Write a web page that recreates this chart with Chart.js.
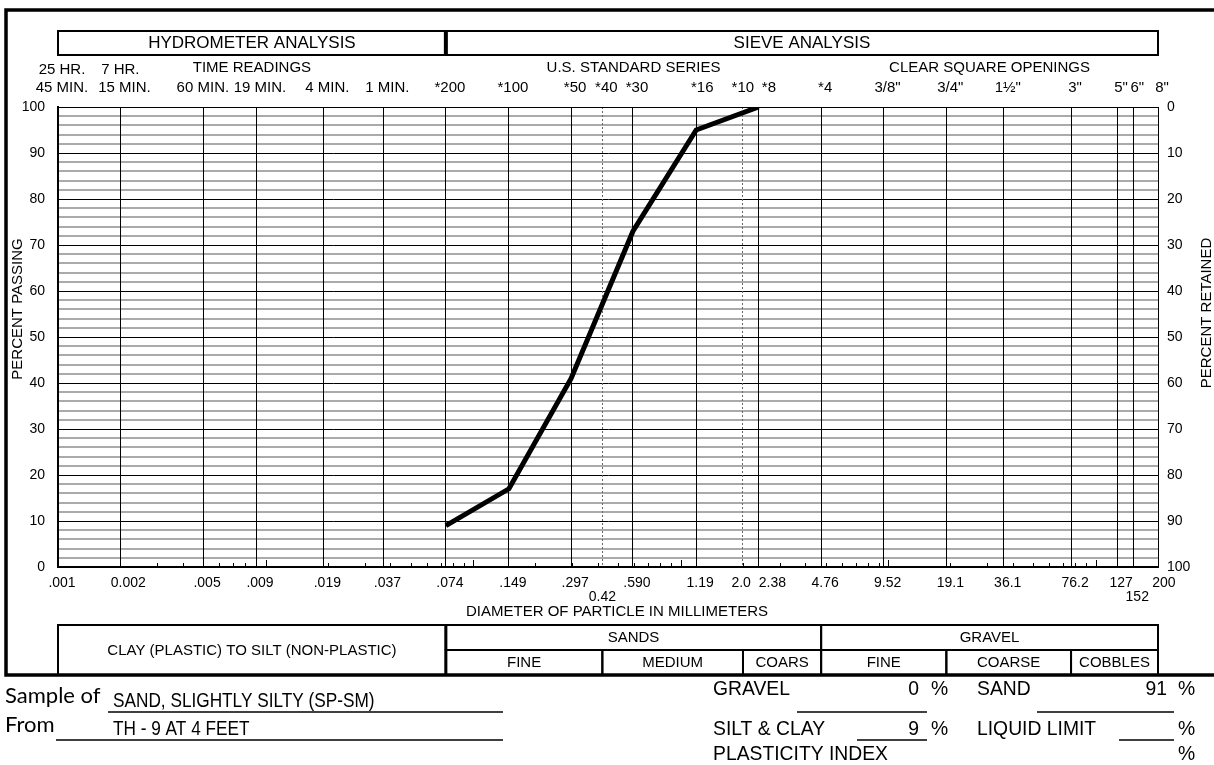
<!DOCTYPE html>
<html><head><meta charset="utf-8">
<script src="https://cdn.jsdelivr.net/npm/chart.js@4.4.1/dist/chart.umd.min.js"></script>
<style>html,body{margin:0;padding:0;background:#fff;}canvas{display:block;}</style>
</head><body>
<canvas id="c" width="1214" height="765"></canvas>
<script>
// ---- data ----
const sampleSizes = [0.074, 0.149, 0.297, 0.590, 1.19, 2.38];
const percentPassing = [9, 17, 41, 73, 95, 100];

const gridSizes = [0.001,0.002,0.005,0.009,0.019,0.037,0.074,0.149,0.297,0.42,0.590,1.19,2.0,2.38,4.76,9.52,19.1,36.1,76.2,127,152,200];
const bottomLabels = ['.001','  0.002','.005','.009','.019','.037','.074','.149','.297',['','0.42  '],'.590','1.19','2.0   ','     2.38','4.76','9.52','19.1','36.1','76.2','127',['','152'],' 200'];
const dottedSizes = [0.42, 2.0];
const topLabels = [['25 HR.','45 MIN.'],['7 HR.  ','15 MIN.'],'60 MIN.  ','19 MIN.','4 MIN.','1 MIN.','*200','*100','*50','*40','*30',' *16','*10  ','   *8','*4','3/8"','3/4"','1½"','3"','5"','6"','8"'];
const headerGroups = [{name:'HYDROMETER ANALYSIS', from:0.001, to:0.074},{name:'SIEVE ANALYSIS', from:0.074, to:200}];
const readingGroups = [{name:'TIME READINGS', from:0.001, to:0.074},{name:'U.S. STANDARD SERIES', from:0.074, to:4.76},{name:'CLEAR SQUARE OPENINGS', from:4.76, to:200}];
const soilGroups = [{name:'SANDS', from:0.074, to:4.76},{name:'GRAVEL', from:4.76, to:200}];
const soilSubGroups = [{name:'FINE',from:0.074,to:0.42},{name:'MEDIUM',from:0.42,to:2.0},{name:'COARS',from:2.0,to:4.76},{name:'FINE',from:4.76,to:19.1},{name:'COARSE',from:19.1,to:76.2},{name:'COBBLES',from:76.2,to:200}];
const fineGroupName = 'CLAY (PLASTIC) TO SILT (NON-PLASTIC)';
const minorDecades = [-3,-2,-1,0,1,2];
const minorMultipliers = [1,2,3,4,5,6,7,8,9];

const sampleOf = 'SAND, SLIGHTLY SILTY (SP-SM)';
const sampleFrom = 'TH - 9 AT 4 FEET';
const gravelPct = '0', sandPct = '91', siltClayPct = '9', liquidLimit = '', plasticityIndex = '';

const FONT = '"Liberation Sans", Arial, sans-serif';
Chart.defaults.font.family = FONT;
Chart.defaults.color = '#000';

function tx(c, s, x, y, o) {
  o = o || {};
  c.save();
  c.font = o.font || ('15px ' + FONT);
  c.textAlign = o.align || 'center';
  c.textBaseline = o.base || 'middle';
  c.fillStyle = '#000';
  c.translate(x, y);
  if (o.rot) c.rotate(o.rot);
  c.scale(o.sx || 1, 1);
  c.fillText(s, 0, 0);
  c.restore();
}
function ln(c, x1, y1, x2, y2, w) {
  c.save(); c.strokeStyle = '#000'; c.lineWidth = w || 1;
  c.beginPath(); c.moveTo(x1, y1); c.lineTo(x2, y2); c.stroke(); c.restore();
}

const decor = {
  id: 'decor',
  beforeDraw(chart) {
    const c = chart.ctx; c.save(); c.fillStyle = '#fff'; c.fillRect(0, 0, chart.width, chart.height); c.restore();
  },
  afterDraw(chart) {
    const c = chart.ctx, xs = chart.scales.x, a = chart.chartArea;
    const px = v => xs.getPixelForValue(v);

    // outer frame
    c.save(); c.strokeStyle = '#000'; c.lineWidth = 3.5; c.strokeRect(6, 10, 1240, 665); c.restore();

    // header boxes
    c.save(); c.strokeStyle = '#000'; c.lineWidth = 2;
    headerGroups.forEach(g => { c.strokeRect(px(g.from), 31, px(g.to) - px(g.from), 24); });
    c.restore();
    ln(c, px(0.074), 30, px(0.074), 56, 4);
    headerGroups.forEach(g => tx(c, g.name, (px(g.from) + px(g.to)) / 2, 43, {font: '17px ' + FONT}));
    readingGroups.forEach(g => tx(c, g.name, (px(g.from) + px(g.to)) / 2, 68, {font: '15px ' + FONT}));

    // minor ticks along the bottom axis
    minorDecades.forEach(d => minorMultipliers.forEach(m => {
      const v = m * Math.pow(10, d);
      if (v < 0.001 || v > 200) return;
      const x = Math.round(px(v)) + 0.5;
      ln(c, x, a.bottom, x, a.bottom - (m === 1 ? 7 : 4), 1);
    }));

    // axis titles
    tx(c, 'PERCENT PASSING', 18, 309, {rot: -Math.PI / 2, font: '15px ' + FONT});
    tx(c, 'PERCENT RETAINED', 1207, 313, {rot: -Math.PI / 2, font: '15px ' + FONT});
    tx(c, 'DIAMETER OF PARTICLE IN MILLIMETERS', 617, 612, {font: '15px ' + FONT});

    // classification table
    const tTop = 625, tMid = 650, tBot = 675;
    c.save(); c.strokeStyle = '#000'; c.lineWidth = 2;
    c.strokeRect(a.left, tTop, px(0.074) - a.left, tBot - tTop);
    soilGroups.forEach(g => c.strokeRect(px(g.from), tTop, px(g.to) - px(g.from), tMid - tTop));
    soilSubGroups.forEach(g => c.strokeRect(px(g.from), tMid, px(g.to) - px(g.from), tBot - tMid));
    c.restore();
    ln(c, px(0.074), tTop, px(0.074), tBot, 3);
    tx(c, fineGroupName, (a.left + px(0.074)) / 2, 651);
    soilGroups.forEach(g => tx(c, g.name, (px(g.from) + px(g.to)) / 2, 638));
    soilSubGroups.forEach(g => tx(c, g.name, (px(g.from) + px(g.to)) / 2, 663));

    // sample information
    const gothic = '22px Lato, "Open Sans", sans-serif';
    tx(c, 'Sample of', 5, 703, {font: gothic, align: 'left', base: 'alphabetic'});
    tx(c, 'From', 5, 732, {font: gothic, align: 'left', base: 'alphabetic'});
    const narrow = '21px ' + FONT;
    tx(c, sampleOf, 113, 707, {font: narrow, align: 'left', base: 'alphabetic', sx: 0.82});
    tx(c, sampleFrom, 113, 735, {font: narrow, align: 'left', base: 'alphabetic', sx: 0.82});
    ln(c, 108, 712, 503, 712, 1.5);
    ln(c, 56, 740, 503, 740, 1.5);

    const f2 = '21px ' + FONT, s2 = 0.92;
    const lbl = (s, x, y, al) => tx(c, s, x, y, {font: f2, align: al || 'left', base: 'alphabetic', sx: s2});
    lbl('GRAVEL', 713, 695); lbl(gravelPct, 919, 695, 'right'); lbl('%', 931, 695);
    ln(c, 797, 712, 927, 712, 1.5);
    lbl('SAND', 977, 695); lbl(sandPct, 1167, 695, 'right'); lbl('%', 1178, 695);
    ln(c, 1037, 712, 1174, 712, 1.5);
    lbl('SILT & CLAY', 713, 735); lbl(siltClayPct, 919, 735, 'right'); lbl('%', 931, 735);
    ln(c, 857, 740, 927, 740, 1.5);
    lbl('LIQUID LIMIT', 977, 735); lbl(liquidLimit, 1167, 735, 'right'); lbl('%', 1178, 735);
    ln(c, 1119, 740, 1174, 740, 1.5);
    lbl('PLASTICITY INDEX', 713, 760); lbl(plasticityIndex, 1167, 760, 'right'); lbl('%', 1178, 760);
  }
};

const isDotted = ctx => ctx.tick && dottedSizes.includes(ctx.tick.value);

new Chart(document.getElementById('c'), {
  type: 'line',
  data: {
    datasets: [{
      data: sampleSizes.map((s, i) => ({x: s, y: percentPassing[i]})),
      borderColor: '#000', borderWidth: 5, pointRadius: 0, tension: 0,
      borderJoinStyle: 'miter', borderCapStyle: 'butt', fill: false,
      xAxisID: 'x', yAxisID: 'y'
    }]
  },
  options: {
    responsive: false, animation: false, devicePixelRatio: 1,
    layout: {padding: 0},
    plugins: {legend: {display: false}, tooltip: {enabled: false}},
    scales: {
      x: {
        type: 'logarithmic', position: 'bottom', min: 0.001, max: 200,
        afterBuildTicks: s => { s.ticks = gridSizes.map(v => ({value: v})); },
        afterFit: s => { s.height = 198; },
        ticks: {autoSkip: false, maxRotation: 0, minRotation: 0, padding: 9, labelOffset: 4,
          font: {size: 14, lineHeight: 1}, color: '#000',
          callback: (v, i) => bottomLabels[i]},
        grid: {drawTicks: false, z: -1,
          color: ctx => isDotted(ctx) ? '#666' : '#000', lineWidth: 1},
        border: {display: true, color: '#000', width: 2, dash: ctx => isDotted(ctx) ? [2, 2] : []}
      },
      x2: {
        type: 'logarithmic', position: 'top', min: 0.001, max: 200,
        afterBuildTicks: s => { s.ticks = gridSizes.map(v => ({value: v})); },
        afterFit: s => { s.height = 107; },
        ticks: {autoSkip: false, maxRotation: 0, minRotation: 0, padding: 10, labelOffset: 4,
          font: {size: 15, lineHeight: 1.2}, color: '#000',
          callback: (v, i) => topLabels[i]},
        grid: {drawOnChartArea: false, drawTicks: false},
        border: {display: true, color: '#000', width: 1}
      },
      y: {
        type: 'linear', position: 'left', min: 0, max: 100,
        afterFit: s => { s.width = 58; },
        ticks: {stepSize: 2, autoSkip: false, padding: 13, font: {size: 14}, color: '#000',
          callback: v => (v % 10 === 0 ? String(v) : '')},
        grid: {drawTicks: false, z: -2,
          color: ctx => (ctx.tick && ctx.tick.value % 10 === 0) ? '#000' : '#aaaaaa',
          lineWidth: ctx => (ctx.tick && ctx.tick.value % 10 === 0) ? 1 : 2},
        border: {display: true, color: '#000', width: 2}
      },
      y2: {
        type: 'linear', position: 'right', min: 0, max: 100, reverse: true,
        afterFit: s => { s.width = 56; },
        ticks: {stepSize: 10, autoSkip: false, padding: 9, font: {size: 14}, color: '#000'},
        grid: {drawOnChartArea: false, drawTicks: false},
        border: {display: false}
      }
    }
  },
  plugins: [decor]
});
</script>
</body></html>
